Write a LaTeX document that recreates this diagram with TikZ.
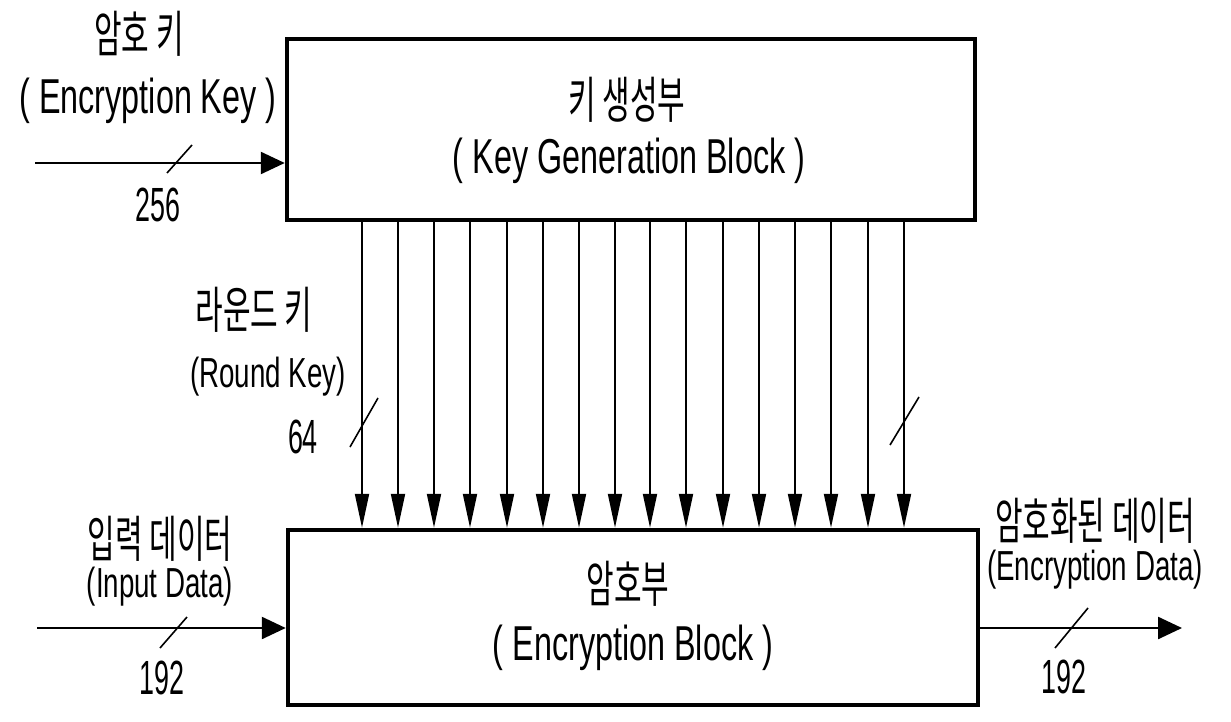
\documentclass[tikz,border=0pt]{standalone}
\usepackage{fontspec}
\setmainfont{Liberation Sans}
\newfontfamily\latn[FakeStretch=0.66]{Liberation Sans}
\newfontfamily\numf[FakeStretch=0.56]{Liberation Sans}
\newfontfamily\kor[FakeStretch=0.6]{Noto Sans CJK KR}
\usetikzlibrary{arrows.meta}
\tikzset{
  blk/.style={draw, line width=4.5pt, inner sep=0pt},
  lbl/.style={inner sep=0pt, anchor=center},
  korL/.style={lbl, font=\kor\fontsize{50}{56}\selectfont},
  latB/.style={lbl, font=\latn\fontsize{49}{55}\selectfont},
  latS/.style={lbl, font=\latn\fontsize{42}{48}\selectfont},
  numL/.style={lbl, font=\numf\fontsize{48}{54}\selectfont},
  bus/.style={line width=2pt, -{Triangle[length=34pt,width=14pt]}},
  io/.style={line width=2.5pt, -{Triangle[length=24pt,width=22pt]}},
  slashmark/.style={line width=1.6pt}
}
\begin{document}
\begin{tikzpicture}[x=1pt,y=-1pt]
\useasboundingbox[fill=white] (0,0) rectangle (1231,722);

% blocks
\node[blk, minimum width=688pt, minimum height=181pt] (kg) at (631,129.5) {};
\node[blk, minimum width=690pt, minimum height=175pt] (enc) at (633,617.5) {};

% block texts
\node[korL] (kgk) at (627,100) {키 생성부};
\node[latB] (kge) at (629,161) {( Key Generation Block )};
\node[korL] (enck) at (628,584) {암호부};
\node[latB] (ence) at (633,648) {( Encryption Block )};

% round key bus
\foreach \i/\x in {1/362,2/398,3/434,4/470,5/507,6/543,7/579,8/615,9/650,10/686,11/723,12/759,13/795,14/831,15/868,16/904}{
  \coordinate (c\i) at (\x,0);
  \draw[bus] (kg.south -| c\i) -- (enc.north -| c\i);
}
\draw[slashmark] (350,447) -- (378,398);
\draw[slashmark] (890,445) -- (919,397);
\node[korL] (rkk) at (254,310) {라운드 키};
\node[latS] (rke) at (268,377) {(Round Key)};
\node[numL] (n64) at (303,437) {64};

% encryption key input
\coordinate (ekin) at (35,163);
\draw[io] (ekin) -- (ekin -| kg.west);
\draw[slashmark] (167,173) -- (192,145);
\node[korL] (ekk) at (139,34) {암호 키};
\node[latB] (eke) at (148,101) {( Encryption Key )};
\node[numL] (n256) at (158,205) {256};

% input data
\coordinate (idin) at (37,628);
\draw[io] (idin) -- (idin -| enc.west);
\draw[slashmark] (160,648) -- (187,617);
\node[korL] (idk) at (160,539) {입력 데이터};
\node[latS] (ide) at (160,587) {(Input Data)};
\node[numL] (n192a) at (162,678) {192};

% encryption data output
\coordinate (edout) at (1182,628);
\draw[io] (edout -| enc.east) -- (edout);
\draw[slashmark] (1055,648) -- (1088,608);
\node[korL] (edk) at (1095,521) {암호화된 데이터};
\node[latS] (ede) at (1095,570) {(Encryption Data)};
\node[numL] (n192b) at (1064,677) {192};
\end{tikzpicture}
\end{document}
